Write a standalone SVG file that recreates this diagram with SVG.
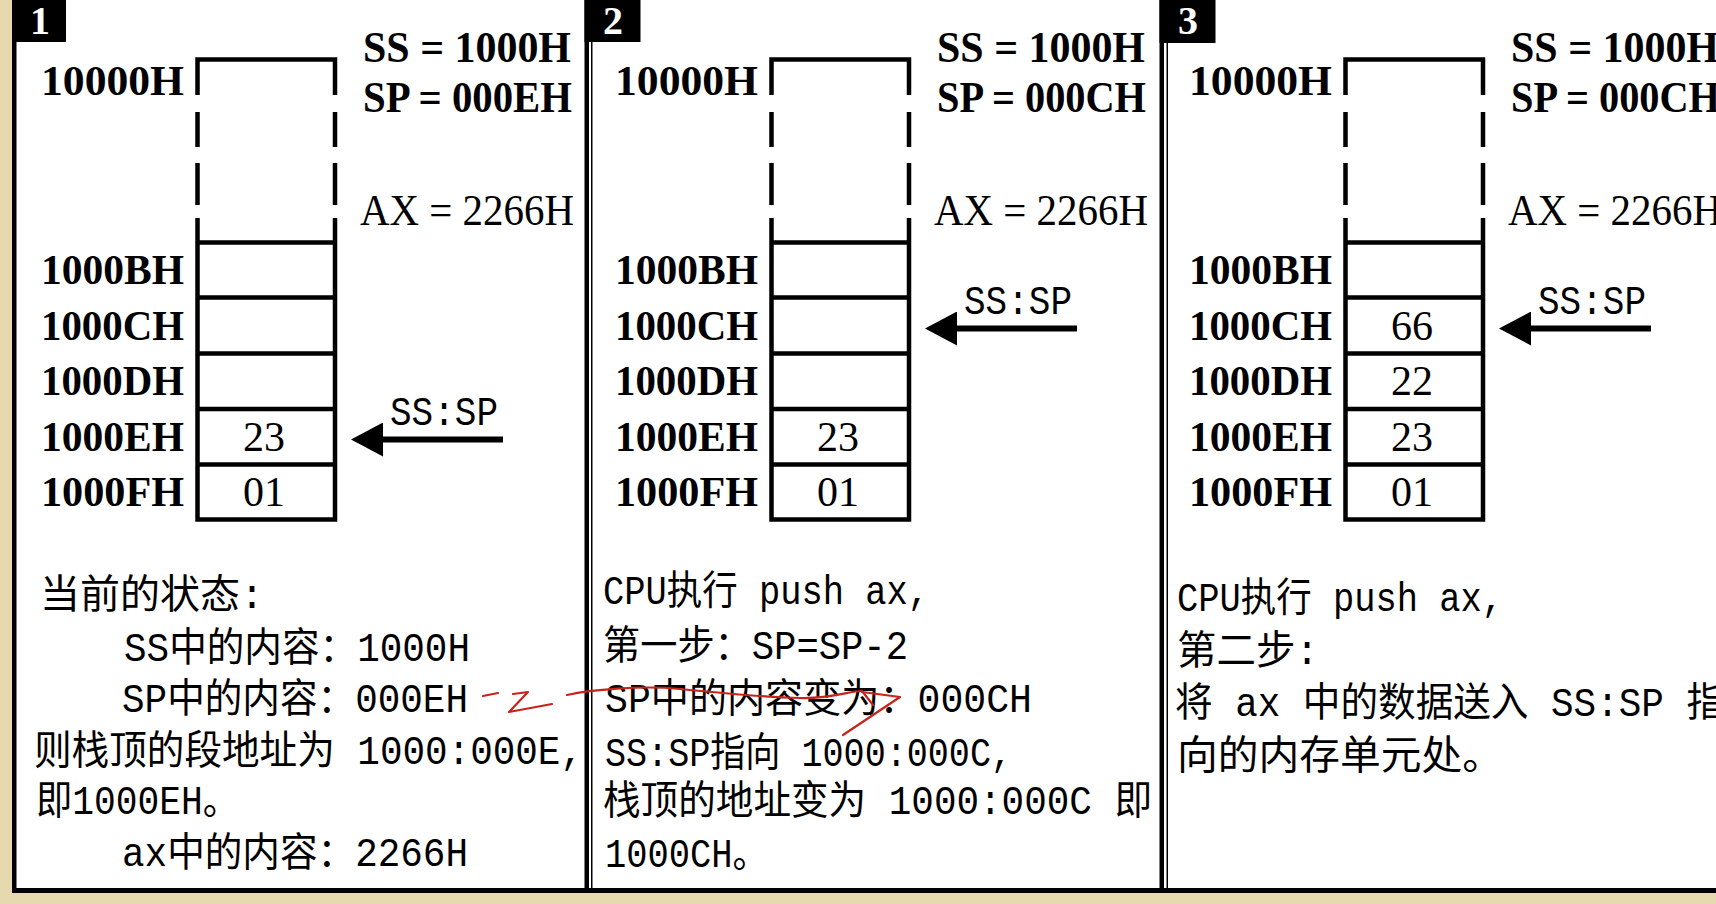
<svg xmlns="http://www.w3.org/2000/svg" xmlns:xlink="http://www.w3.org/1999/xlink" width="1716" height="904" viewBox="0 0 1716 904">
<style>
.lbl{font-family:"Liberation Serif",serif;font-weight:bold;font-size:42px;fill:#000}
.reg{font-family:"Liberation Serif",serif;font-weight:bold;font-size:44px;fill:#000}
.ax{font-family:"Liberation Serif",serif;font-size:44px;fill:#000}
.val{font-family:"Liberation Serif",serif;font-size:42px;fill:#000;text-anchor:middle}
.body{font-family:"Liberation Mono","Noto Sans CJK SC",monospace;font-size:40px;fill:#000}
.ptr{font-family:"Liberation Mono",monospace;font-size:40px;fill:#000}
.num{font-family:"Liberation Serif",serif;font-weight:bold;font-size:40px;fill:#fff;text-anchor:middle}
.ln{stroke:#000;stroke-width:4.5;fill:none}
.ptrline{stroke:#000;stroke-width:6;fill:none}
.red{stroke:#c8231b;stroke-width:2.2;fill:none;stroke-linecap:round;stroke-linejoin:round}
</style>
<defs>
<marker id="head" markerUnits="userSpaceOnUse" markerWidth="33" markerHeight="34" refX="0" refY="17" orient="auto">
<path d="M0,0 L32,17 L0,34 Z" fill="#000"/>
</marker>
<g id="frame">
<path class="ln" d="M197.5,95 V59.5 H335 V95 M197.5,112 V147 M335,112 V147 M197.5,163 V205 M335,163 V205 M197.5,218 V519.5 H335 V218 M195.25,242.5 H337.25 M195.25,297.5 H337.25 M195.25,353.5 H337.25 M195.25,409 H337.25 M195.25,464.5 H337.25"/>
</g>
<g id="addr">
<text class="lbl" x="41" y="95" textLength="143" lengthAdjust="spacingAndGlyphs">10000H</text>
<text class="lbl" x="41" y="284" textLength="143" lengthAdjust="spacingAndGlyphs">1000BH</text>
<text class="lbl" x="41" y="340" textLength="143" lengthAdjust="spacingAndGlyphs">1000CH</text>
<text class="lbl" x="41" y="395" textLength="143" lengthAdjust="spacingAndGlyphs">1000DH</text>
<text class="lbl" x="41" y="451" textLength="143" lengthAdjust="spacingAndGlyphs">1000EH</text>
<text class="lbl" x="41" y="506" textLength="143" lengthAdjust="spacingAndGlyphs">1000FH</text>
<text class="reg" x="363" y="62" textLength="208" lengthAdjust="spacingAndGlyphs">SS = 1000H</text>
<text class="ax" x="360" y="225" textLength="214" lengthAdjust="spacingAndGlyphs">AX = 2266H</text>
</g>
</defs>
<rect x="0" y="0" width="1716" height="904" fill="#e6d9b0"/>
<rect x="12" y="0" width="1704" height="890" fill="#fff"/>
<g id="borders">
<rect x="12" y="0" width="4.5" height="893" fill="#000"/>
<rect x="584.5" y="0" width="4.5" height="893" fill="#000"/>
<rect x="1159.5" y="0" width="4.5" height="893" fill="#000"/>
<rect x="591" y="42" width="1.5" height="847" fill="#000"/>
<rect x="1166.5" y="42" width="1.5" height="847" fill="#000"/>
<rect x="12" y="888" width="1704" height="5" fill="#000"/>
</g>
<g id="panel1">
<rect x="12" y="0" width="54" height="42" fill="#000"/>
<text class="num" x="40" y="34">1</text>
<use xlink:href="#frame"/>
<use xlink:href="#addr"/>
<text class="reg" x="363" y="112" textLength="209" lengthAdjust="spacingAndGlyphs">SP = 000EH</text>
<text class="val" x="264" y="451">23</text>
<text class="val" x="264" y="506">01</text>
<text class="ptr" x="390" y="425" textLength="108" lengthAdjust="spacingAndGlyphs">SS:SP</text>
<text class="body" x="40" y="608" textLength="224" lengthAdjust="spacingAndGlyphs">当前的状态:</text>
<text class="body" x="124" y="661" textLength="346" lengthAdjust="spacingAndGlyphs">SS中的内容：1000H</text>
<text class="body" x="122" y="712" textLength="346" lengthAdjust="spacingAndGlyphs">SP中的内容：000EH</text>
<text class="body" x="34" y="764" textLength="549" lengthAdjust="spacingAndGlyphs">则栈顶的段地址为 1000:000E,</text>
<text class="body" x="36" y="814" textLength="203" lengthAdjust="spacingAndGlyphs">即1000EH。</text>
<text class="body" x="122" y="866" textLength="346" lengthAdjust="spacingAndGlyphs">ax中的内容：2266H</text>
</g>
<g id="panel2">
<rect x="584.5" y="0" width="56" height="42" fill="#000"/>
<text class="num" x="613" y="34">2</text>
<use xlink:href="#frame" x="574"/>
<use xlink:href="#addr" x="574"/>
<text class="reg" x="937" y="112" textLength="209" lengthAdjust="spacingAndGlyphs">SP = 000CH</text>
<text class="val" x="838" y="451">23</text>
<text class="val" x="838" y="506">01</text>
<text class="ptr" x="964" y="314" textLength="108" lengthAdjust="spacingAndGlyphs">SS:SP</text>
<text class="body" x="603" y="604" textLength="326" lengthAdjust="spacingAndGlyphs">CPU执行 push ax,</text>
<text class="body" x="603" y="659" textLength="305" lengthAdjust="spacingAndGlyphs">第一步：SP=SP-2</text>
<text class="body" x="605" y="712" textLength="427" lengthAdjust="spacingAndGlyphs">SP中的内容变为：000CH</text>
<text class="body" x="605" y="766" textLength="407" lengthAdjust="spacingAndGlyphs">SS:SP指向 1000:000C,</text>
<text class="body" x="603" y="814" textLength="549" lengthAdjust="spacingAndGlyphs">栈顶的地址变为 1000:000C 即</text>
<text class="body" x="605" y="867" textLength="163" lengthAdjust="spacingAndGlyphs">1000CH。</text>
</g>
<g id="panel3">
<rect x="1159.5" y="0" width="56" height="43" fill="#000"/>
<text class="num" x="1188" y="34">3</text>
<use xlink:href="#frame" x="1148"/>
<use xlink:href="#addr" x="1148"/>
<text class="reg" x="1511" y="112" textLength="209" lengthAdjust="spacingAndGlyphs">SP = 000CH</text>
<text class="val" x="1412" y="340">66</text>
<text class="val" x="1412" y="395">22</text>
<text class="val" x="1412" y="451">23</text>
<text class="val" x="1412" y="506">01</text>
<text class="ptr" x="1538" y="314" textLength="108" lengthAdjust="spacingAndGlyphs">SS:SP</text>
<text class="body" x="1177" y="611" textLength="326" lengthAdjust="spacingAndGlyphs">CPU执行 push ax,</text>
<text class="body" x="1177" y="664" textLength="142" lengthAdjust="spacingAndGlyphs">第二步:</text>
<text class="body" x="1175" y="716" textLength="549" lengthAdjust="spacingAndGlyphs">将 ax 中的数据送入 SS:SP 指</text>
<text class="body" x="1177" y="769" textLength="326" lengthAdjust="spacingAndGlyphs">向的内存单元处。</text>
</g>
<g id="connectors">
<line class="ptrline" x1="503" y1="439.5" x2="383" y2="439.5" marker-end="url(#head)"/>
<line class="ptrline" x1="1077" y1="328.5" x2="957" y2="328.5" marker-end="url(#head)"/>
<line class="ptrline" x1="1651" y1="328.5" x2="1531" y2="328.5" marker-end="url(#head)"/>
<path class="red" d="M483,696 L498,693"/>
<path class="red" d="M513,694 L528,692 L509,712 L552,704"/>
<path class="red" d="M567,695 C590,690 640,685 680,689 C720,693 760,697 800,698 C830,699 850,691 862,691 L873,705"/>
<path class="red" d="M862,692 L900,697 L843,735"/>
</g>
</svg>
